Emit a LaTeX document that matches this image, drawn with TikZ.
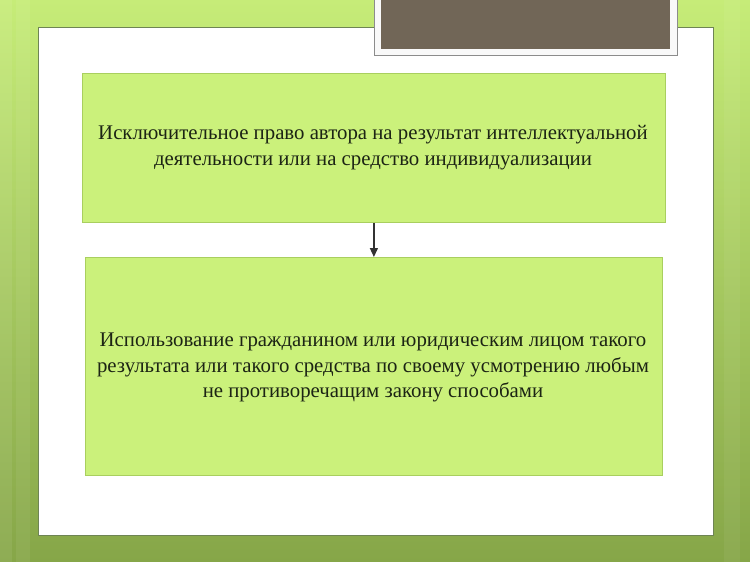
\documentclass[tikz,border=0pt]{standalone}
\usepackage{fontspec}
\setmainfont{Liberation Serif}
\usetikzlibrary{arrows.meta}
\definecolor{bgtop}{HTML}{C6EC78}
\definecolor{bgbot}{HTML}{86A648}
\definecolor{boxfill}{HTML}{CBF17B}
\definecolor{boxline}{HTML}{A9CF5F}
\definecolor{panelline}{HTML}{6E8454}
\definecolor{titlebrown}{HTML}{716657}
\definecolor{txt}{HTML}{1C2414}
\tikzset{
  greenbox/.style={draw=boxline, line width=0.8pt, fill=boxfill, anchor=north west, inner sep=0pt},
  boxtext/.style={align=center, text=txt, font=\fontsize{20.8}{25.8}\selectfont},
  conn/.style={-{Triangle[length=9pt,width=8pt]}, draw=black!80, line width=1.3pt}
}
\begin{document}
\begin{tikzpicture}[x=1pt,y=-1pt]
\useasboundingbox (0,0) rectangle (750,562);
% background
\shade[top color=bgtop, bottom color=bgbot] (0,0) rectangle (750,562);
\fill[white, opacity=0.07] (0,0) rectangle (12,562);
\fill[white, opacity=0.06] (16,0) rectangle (30,562);
\fill[white, opacity=0.05] (724,0) rectangle (740,562);
% white panel
\draw[panelline, line width=1pt, fill=white] (38,27) rectangle (713,535);
% title frame
\draw[black!45, line width=0.8pt, fill=white!95!gray] (374,-2) rectangle (677,55);
\fill[titlebrown] (381,-2) rectangle (670,49);
% boxes
\node[greenbox, minimum width=583, minimum height=149] (a) at (82,73) {};
\node[greenbox, minimum width=577, minimum height=218] (b) at (85,257) {};
\node[boxtext] (ta) at (373,148) {Исключительное право автора на результат интеллектуальной\\деятельности или на средство индивидуализации};
\node[boxtext] (tb) at (373,367.5) {Использование гражданином или юридическим лицом такого\\результата или такого средства по своему усмотрению любым\\не противоречащим закону способами};
\draw[conn] (a.south) -- (b.north);
\end{tikzpicture}
\end{document}
